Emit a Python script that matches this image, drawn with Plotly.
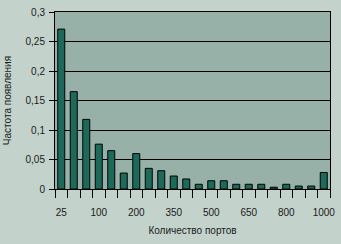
import plotly.graph_objects as go

categories = ["25", "50", "75", "100", "125", "150", "200", "250", "300", "350", "400",
              "450", "500", "550", "600", "650", "700", "750", "800", "850", "900", "1000"]
frequency = [0.271, 0.165, 0.118, 0.076, 0.065, 0.027, 0.060, 0.035, 0.031, 0.022, 0.017,
             0.008, 0.014, 0.014, 0.008, 0.008, 0.008, 0.003, 0.008, 0.005, 0.005, 0.028]
shown_labels = ["25", "100", "200", "350", "500", "650", "800", "1000"]
y_ticks = [0, 0.05, 0.1, 0.15, 0.2, 0.25, 0.3]
y_tick_text = ["0", "0,05", "0,1", "0,15", "0,2", "0,25", "0,3"]

x_text = [c if c in shown_labels else "" for c in categories]

font = dict(family="Liberation Sans, Arial, sans-serif", size=10, color="#1a1a1a")

fig = go.Figure(go.Bar(
    x=categories, y=frequency,
    marker=dict(color="#1e6a5a", line=dict(color="#000000", width=1)),
))

fig.update_layout(
    width=341, height=244,
    margin=dict(l=55, r=10, t=6, b=55),
    paper_bgcolor="#c3d3cb", plot_bgcolor="#97b1a8",
    font=font, bargap=0.44, showlegend=False,
)
fig.update_xaxes(
    type="category", tickvals=categories, ticktext=x_text, tickangle=0,
    tickson="boundaries", ticks="outside", ticklen=8, tickcolor="#000", tickwidth=1,
    ticklabelstandoff=14,
    showline=True, linecolor="#000", linewidth=1, mirror=True, showgrid=False,
    title=dict(text="Количество портов", standoff=9, font=font),
)
fig.update_yaxes(
    range=[0, 0.3], tickvals=y_ticks, ticktext=y_tick_text,
    ticks="outside", ticklen=5, tickcolor="#000", ticklabelstandoff=2,
    showline=True, linecolor="#000", linewidth=1, mirror=True,
    showgrid=True, gridcolor="#000", gridwidth=1, zeroline=False,
    title=dict(text="Частота появления", standoff=12, font=font),
)

fig.write_html("out.html")
